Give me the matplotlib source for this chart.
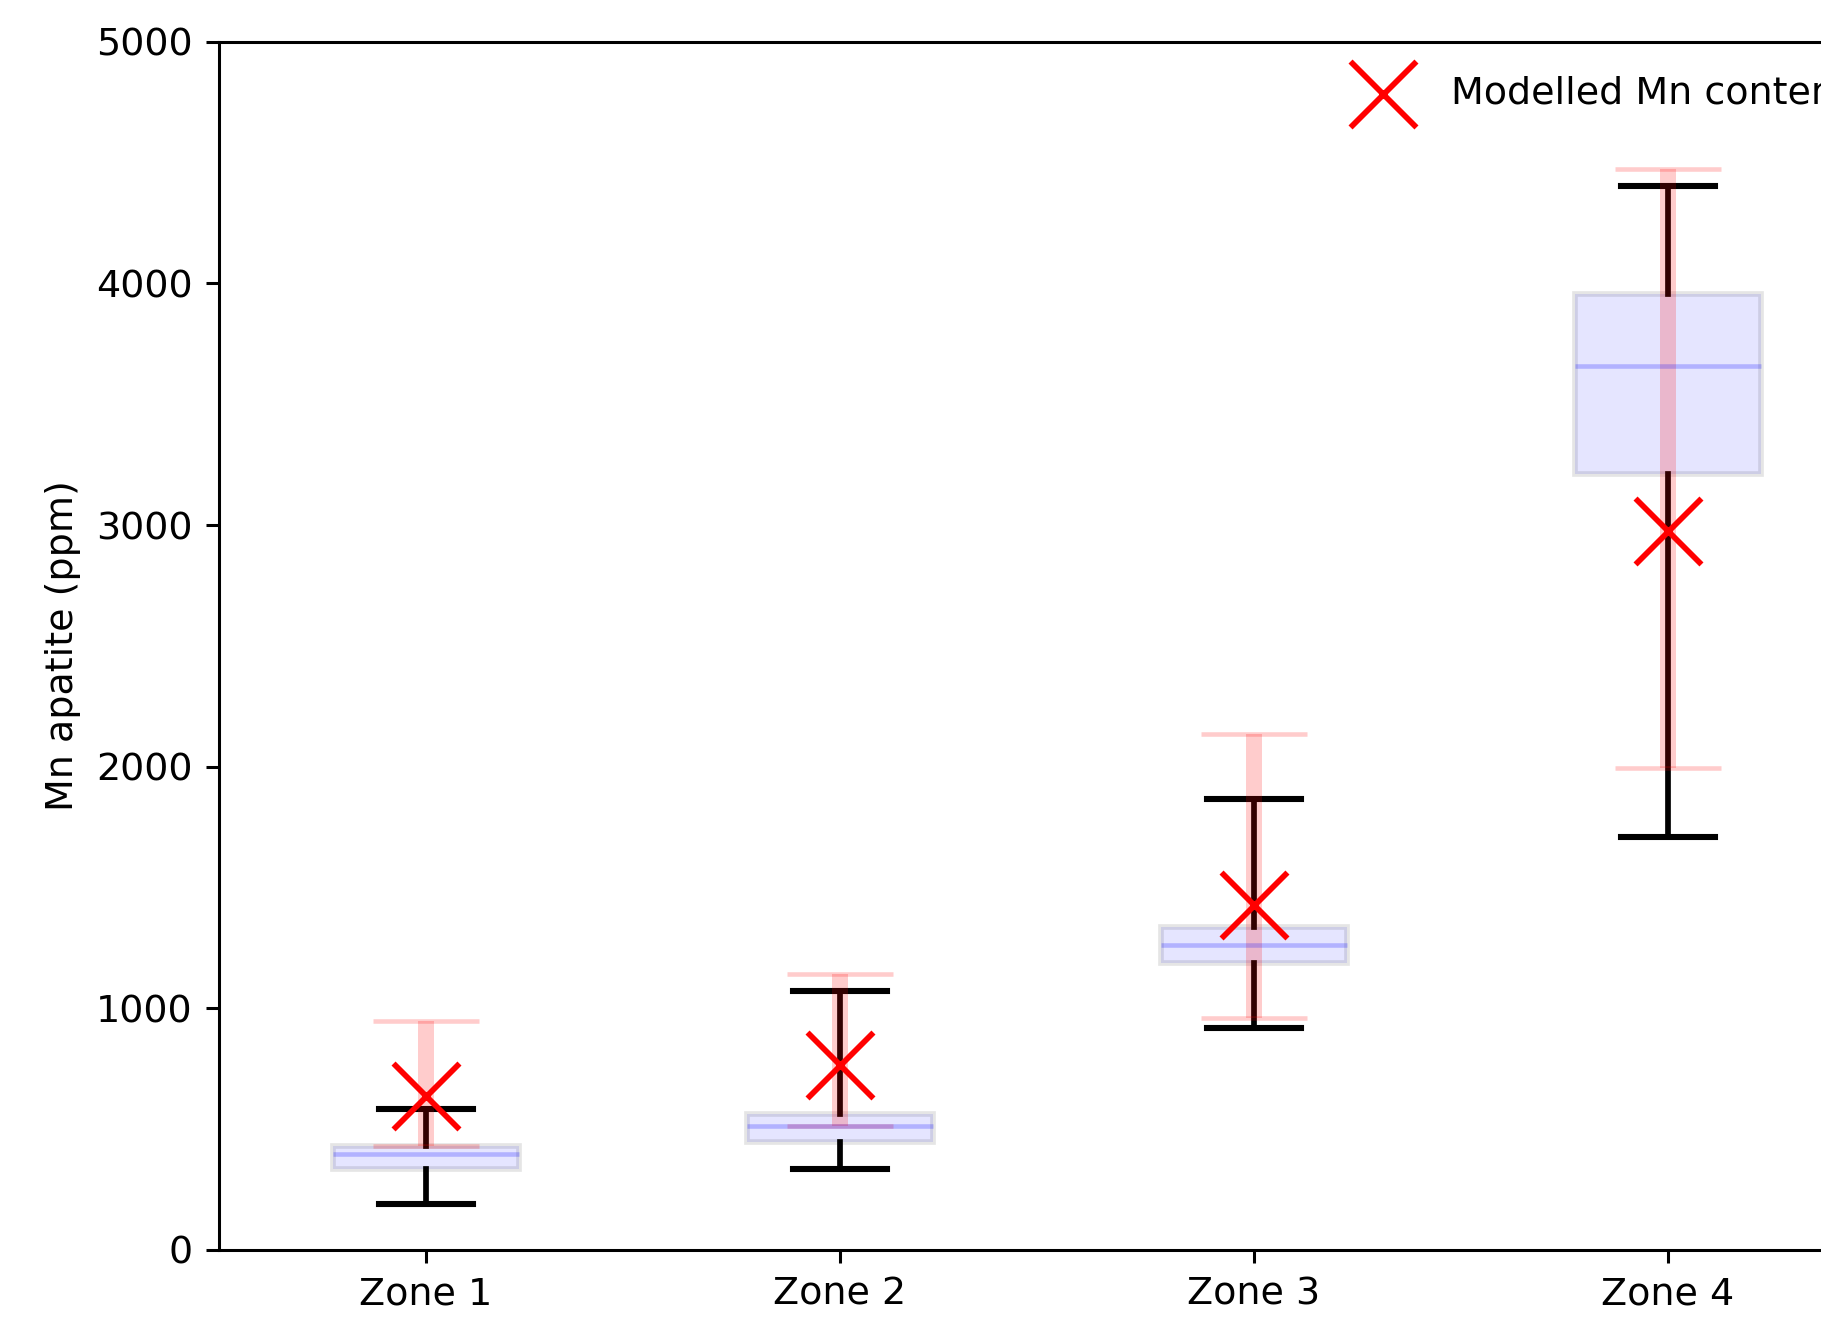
import matplotlib
matplotlib.use('Agg')
import matplotlib.pyplot as plt

# values
zones = ['Zone 1', 'Zone 2', 'Zone 3', 'Zone 4']
positions = [1, 2, 3, 4]

whis_lo = [190, 335, 919, 1710]
q1 = [335, 447, 1189, 3211]
med = [396, 514, 1262, 3656]
q3 = [429, 562, 1335, 3956]
whis_hi = [582, 1072, 1867, 4404]

modelled = [637, 766, 1428, 2976]
model_lo = [430, 514, 959, 1993]
model_hi = [949, 1141, 2135, 4473]

dpi = 274
fig = plt.figure(figsize=(1821 / dpi, 1330 / dpi), dpi=dpi)
# axes run past the right edge, like the cropped original
ax = fig.add_axes([219 / 1821, 80 / 1330, 1656 / 1821, 1208.3 / 1330])

stats = []
for i in range(len(zones)):
    stats.append(dict(label=zones[i], whislo=whis_lo[i], q1=q1[i], med=med[i],
                      q3=q3[i], whishi=whis_hi[i], fliers=[]))

ax.bxp(stats, positions=positions, widths=0.45, patch_artist=True, showfliers=False,
       boxprops=dict(facecolor=(0, 0, 1, 0.1), edgecolor=(0, 0, 0, 0.1), linewidth=1.5),
       medianprops=dict(color=(0, 0, 1, 0.22), linewidth=1.2),
       whiskerprops=dict(color='black', linewidth=1.5),
       capprops=dict(color='black', linewidth=1.6))

err = [[m - lo for m, lo in zip(modelled, model_lo)],
       [hi - m for m, hi in zip(modelled, model_hi)]]
ax.errorbar(positions, modelled, yerr=err, fmt='none', ecolor='red', alpha=0.2,
            elinewidth=4.2, capsize=14, capthick=1.2)
ax.scatter(positions, modelled, marker='x', s=300, c='red', linewidths=1.5,
           zorder=5, label='Modelled Mn content')

ax.set_xlim(0.5, 4.5)
ax.set_ylim(0, 5000)
ax.set_xticks(positions)
ax.set_xticklabels(zones)
ax.set_ylabel('Mn apatite (ppm)')
ax.legend(loc='upper left', bbox_to_anchor=(0.6705, 0.9843), borderaxespad=0,
          frameon=False)

fig.savefig('out.png', dpi=dpi)
